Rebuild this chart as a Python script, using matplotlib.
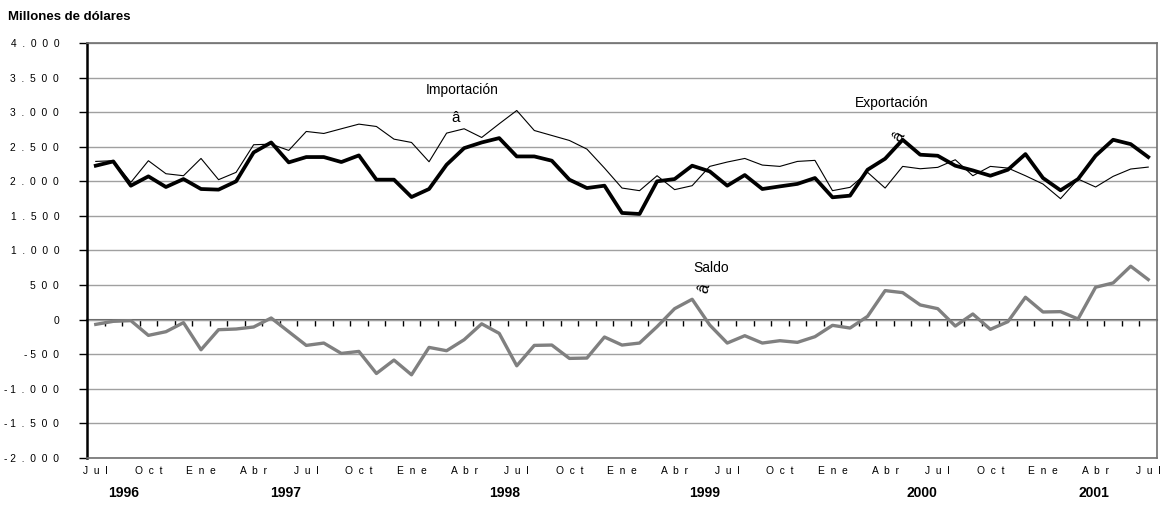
import numpy as np
import matplotlib
matplotlib.use('Agg')
import matplotlib.pyplot as plt
from matplotlib.ticker import FuncFormatter, FixedLocator, NullFormatter

plt.rcParams['font.family'] = ['Liberation Sans', 'DejaVu Sans']

##========================================
# Data (Jul 1996 - Jul 2001, monthly, millones de dólares)
##========================================
exportacion = [2226, 2288, 1937, 2072, 1918, 2033, 1889, 1880, 2000, 2418,
               2562, 2274, 2351, 2351, 2279, 2375, 2024, 2024, 1773, 1889,
               2240, 2480, 2562, 2625, 2360, 2360, 2298, 2024, 1903, 1937,
               1543, 1528, 2000, 2033, 2226, 2144, 1937, 2091, 1889, 1927,
               1963, 2048, 1769, 1793, 2168, 2327, 2601, 2385, 2370, 2226,
               2158, 2081, 2168, 2394, 2048, 1870, 2033, 2370, 2601, 2538,
               2351]
importacion = [2288, 2298, 1985, 2298, 2110, 2081, 2331, 2024, 2130, 2529,
               2538, 2447, 2721, 2692, 2760, 2827, 2793, 2610, 2562, 2283,
               2697, 2760, 2634, 2832, 3024, 2735, 2663, 2591, 2466, 2192,
               1903, 1865, 2081, 1880, 1937, 2216, 2279, 2331, 2235, 2216,
               2288, 2303, 1865, 1913, 2130, 1903, 2216, 2182, 2202, 2312,
               2081, 2216, 2192, 2081, 1961, 1749, 2033, 1918, 2072, 2178,
               2206]
saldo = [-68, -24, -14, -227, -174, -43, -435, -145, -135, -106,
         24, -174, -372, -338, -488, -459, -778, -584, -797, -401,
         -449, -290, -60, -198, -667, -372, -367, -560, -555, -251,
         -367, -338, -101, 159, 295, -77, -338, -232, -338, -304,
         -328, -246, -82, -121, 48, 420, 391, 213, 159, -92,
         82, -140, -29, 324, 111, 116, 10, 469, 531, 773,
         580]

month_names = ['Jul', 'Oct', 'Ene', 'Abr']
years = ['1996', '1997', '1998', '1999', '2000', '2001']
year_pos = [1.6, 10.8, 23.3, 34.7, 47.1, 56.9]

x = np.arange(len(exportacion))
ymin, ymax = -2000, 4000


def spaced(s):
    # letter-spaced labels like the original
    if s.startswith('-'):
        return '- ' + '  '.join(s[1:])
    return '  '.join(s)


def ylab(v, pos):
    s = '{:,.0f}'.format(v).replace(',', '.')
    return spaced(s)


fig = plt.figure(figsize=(11.7, 5.08), dpi=100)
ax = fig.add_axes([87 / 1170, 1 - 458 / 508, 1070 / 1170, 415 / 508])

ax.set_ylim(ymin, ymax)
ax.set_xlim(-0.5, len(x) - 0.5)
ax.set_yticks(np.arange(ymin, ymax + 1, 500))
ax.yaxis.set_major_formatter(FuncFormatter(ylab))
ax.grid(axis='y', color='#a0a0a0', lw=1.0)
ax.set_axisbelow(True)

ax.plot(x, importacion, color='black', lw=0.8, zorder=3)
ax.plot(x, exportacion, color='black', lw=2.7, zorder=4)
ax.plot(x, saldo, color='#808080', lw=2.4, zorder=4)

# spines
ax.spines['left'].set_color('black')
ax.spines['left'].set_linewidth(1.8)
for s in ['top', 'right', 'bottom']:
    ax.spines[s].set_color('#707070')
    ax.spines[s].set_linewidth(1.2)
ax.tick_params(axis='y', direction='out', length=6, width=1, color='black',
               labelsize=7.4, pad=14)

# month labels along bottom
mpos = x[::3]
ax.set_xticks(mpos)
ax.set_xticklabels([spaced(month_names[k % 4]) for k in range(len(mpos))])
ax.tick_params(axis='x', length=0, labelsize=7.4, pad=6)

# zero line with category ticks
sec = ax.secondary_xaxis((0 - ymin) / (ymax - ymin))
sec.spines['bottom'].set_color('#606060')
sec.spines['bottom'].set_linewidth(1.5)
sec.xaxis.set_major_locator(FixedLocator(x[:-1] + 0.5))
sec.xaxis.set_major_formatter(NullFormatter())
sec.tick_params(axis='x', direction='out', length=4, width=1, color='black')

# year labels
for yr, p in zip(years, year_pos):
    ax.text(p, -0.085, yr, transform=ax.get_xaxis_transform(), ha='center',
            va='center', fontsize=10, fontweight='bold')

# series labels
ax.text(20.9, 3321, 'Importación', ha='center', va='center', fontsize=10)
ax.text(45.4, 3132, 'Exportación', ha='center', va='center', fontsize=10)
ax.text(35.1, 747, 'Saldo', ha='center', va='center', fontsize=10)
ax.text(20.5, 2915, 'â', ha='center', va='center', fontsize=11)
ax.text(45.8, 2650, 'â', ha='center', va='center', fontsize=12, rotation=60)
ax.text(34.7, 458, 'â', ha='center', va='center', fontsize=12, rotation=75)

fig.text(8 / 1170, 1 - 17 / 508, 'Millones de dólares', ha='left',
         va='center', fontsize=9.5, fontweight='bold')

fig.savefig('out.png', dpi=100)
